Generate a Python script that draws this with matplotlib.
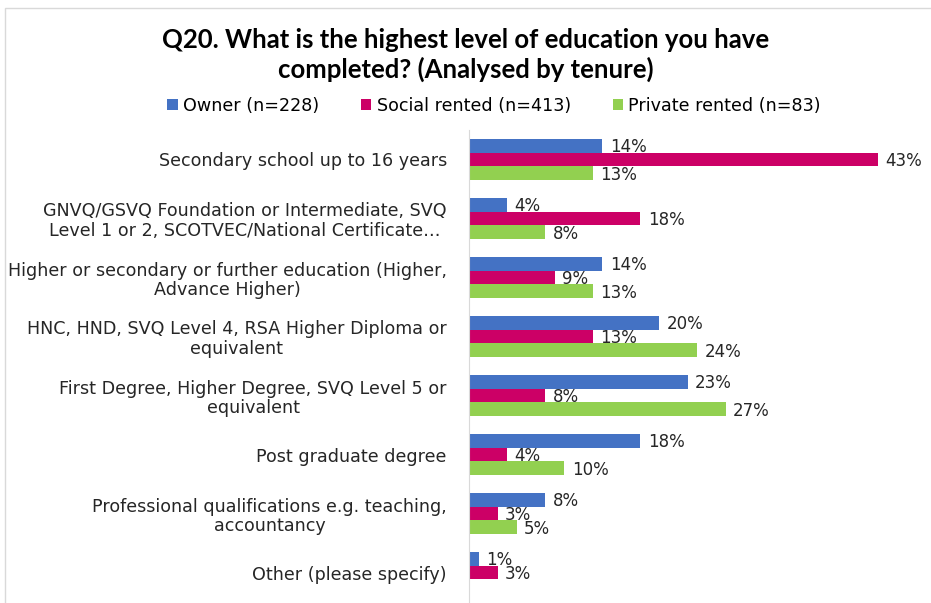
import matplotlib.pyplot as plt
import numpy as np
from matplotlib.patches import Rectangle

plt.rcParams['font.family'] = ['DejaVu Sans']

categories = [
    'Secondary school up to 16 years',
    'GNVQ/GSVQ Foundation or Intermediate, SVQ\nLevel 1 or 2, SCOTVEC/National Certificate…',
    'Higher or secondary or further education (Higher,\nAdvance Higher)',
    'HNC, HND, SVQ Level 4, RSA Higher Diploma or\nequivalent',
    'First Degree, Higher Degree, SVQ Level 5 or\nequivalent',
    'Post graduate degree',
    'Professional qualifications e.g. teaching,\naccountancy',
    'Other (please specify)',
]
owner = [14, 4, 14, 20, 23, 18, 8, 1]
social = [43, 18, 9, 13, 8, 4, 3, 3]
private = [13, 8, 13, 24, 27, 10, 5, 0]

series = [
    ('Owner (n=228)', owner, '#4472C4'),
    ('Social rented (n=413)', social, '#CC0066'),
    ('Private rented (n=83)', private, '#92D050'),
]

fig = plt.figure(figsize=(9.31, 6.03), dpi=100)
# chart frame
fig.patches.append(Rectangle((5 / 931, -0.01), 1.0, 1 - 8 / 603 + 0.01,
                             transform=fig.transFigure, fill=False,
                             edgecolor='#D9D9D9', linewidth=1))

ax = fig.add_axes([469 / 931, 1 / 603, 460 / 931, 472 / 603])

y = np.arange(len(categories))
h = 0.235
for i, (name, vals, color) in enumerate(series):
    pos = y + (i - 1) * h
    ax.barh(pos, vals, height=h, color=color, label=name)
    for yy, v in zip(pos, vals):
        if v == 0:
            continue
        ax.text(v + 0.8, yy + 0.03, f'{v}%', va='center', ha='left',
                fontsize=12, color='#262626')

ax.set_ylim(len(categories) - 0.5, -0.5)
ax.set_xlim(0, 48.4)
ax.set_yticks(y)
ax.set_yticklabels(categories, fontsize=12.6, color='#262626',
                   ha='right', multialignment='center', linespacing=1.1)
ax.tick_params(axis='y', length=0, pad=16)
ax.set_xticks([])
for s in ['top', 'right', 'bottom']:
    ax.spines[s].set_visible(False)
ax.spines['left'].set_color('#D9D9D9')

fig.text(0.5, 1 - 55 / 603, 'Q20. What is the highest level of education you have\ncompleted? (Analysed by tenure)',
         ha='center', va='center', fontsize=18.5, fontweight='bold',
         color='#000000', linespacing=1.25, family=['Lato', 'DejaVu Sans'])

fig.legend(loc='center', bbox_to_anchor=(494 / 931, 1 - 106 / 603), ncol=3,
           frameon=False, fontsize=12.6, handlelength=0.6, handleheight=0.6,
           handletextpad=0.3, columnspacing=2.4)

fig.savefig('out.png', dpi=100)
